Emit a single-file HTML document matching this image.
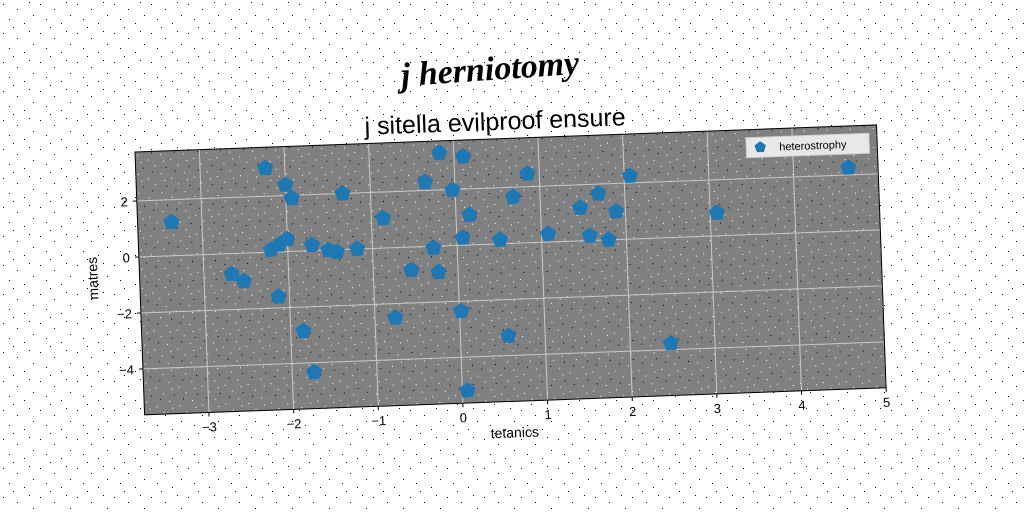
<!DOCTYPE html>
<html><head><meta charset="utf-8"><style>
html,body{margin:0;padding:0;background:#fff;}
svg{display:block;font-family:"Liberation Sans",sans-serif;}
</style></head><body>
<svg id="chart" width="1024" height="512" viewBox="0 0 1024 512" xmlns="http://www.w3.org/2000/svg">
<defs>
<pattern id="noise" width="37" height="29" patternUnits="userSpaceOnUse">
<rect x="3" y="4" width="1" height="1" fill="#000"/><rect x="17" y="9" width="1" height="1" fill="#000"/>
<rect x="29" y="2" width="1" height="1" fill="#000"/><rect x="9" y="19" width="1" height="1" fill="#000"/>
<rect x="24" y="23" width="1" height="1" fill="#000"/><rect x="33" y="15" width="1" height="1" fill="#000"/>
<rect x="13" y="27" width="1" height="1" fill="#000"/>
</pattern>
<pattern id="noise2" width="23" height="19" patternUnits="userSpaceOnUse">
<rect x="2" y="3" width="1" height="1" fill="#fff"/><rect x="12" y="8" width="1" height="1" fill="#fff"/>
<rect x="19" y="14" width="1" height="1" fill="#fff"/><rect x="7" y="16" width="1" height="1" fill="#000"/>
<rect x="16" y="1" width="1" height="1" fill="#000"/><rect x="5" y="10" width="1" height="1" fill="#fff"/>
</pattern>
</defs>
<rect width="1024" height="512" fill="url(#noise)"/>
<text x="490" y="80" text-anchor="middle" font-size="34" font-weight="bold" font-style="italic" font-family="Liberation Serif, serif" transform="rotate(-4 490 70)">j herniotomy</text>
<text x="495" y="130" text-anchor="middle" font-size="25" transform="rotate(-2.09 495 120)">j sitella evilproof ensure</text>
<g id="plot" transform="translate(135,152) rotate(-2.09)"></g>
</svg>
<script>
const xValues = [-3.36,-2.23,-2.0,-1.93,-1.33,-2.2,-2.1,-2.0,-1.71,-1.52,-1.42,-1.18,-2.67,-2.53,-2.13,-1.85,-1.74,-0.76,-0.86,-0.55,-0.23,-0.28,-0.35,-0.17,-0.03,0.11,0.07,0.16,0.02,0.06,0.51,0.68,0.57,0.86,1.08,1.47,1.57,1.69,1.79,1.89,2.07,2.48,3.08,4.65];
const yValues = [1.2,3.0,2.38,1.9,2.0,0.08,0.25,0.44,0.2,0.0,-0.08,0.0,-0.73,-1.0,-1.6,-2.86,-4.34,-2.5,1.07,-0.82,-0.93,-0.06,2.3,3.32,1.98,3.16,0.26,1.07,-2.35,-5.2,0.14,1.65,-3.3,2.46,0.29,1.18,0.17,1.66,0.0,1.0,2.25,-3.77,0.82,2.26];
const xTicks = [-3,-2,-1,0,1,2,3,4,5];
const yTicks = [-4,-2,0,2];
const xMin=-3.76, xMax=5.0, yMin=-5.64, yMax=3.75;
const W=742, H=263;
const sx=v=>(v-xMin)/(xMax-xMin)*W;
const sy=v=>(yMax-v)/(yMax-yMin)*H;
const NS="http://www.w3.org/2000/svg";
const g=document.getElementById('plot');
function mk(tag,attrs,parent){const e=document.createElementNS(NS,tag);for(const k in attrs)e.setAttribute(k,attrs[k]);(parent||g).appendChild(e);return e;}
let bg=mk('rect',{x:0,y:0,width:W,height:H,fill:'#808080'});


let nz=mk('rect',{x:0,y:0,width:W,height:H,fill:'url(#noise2)'});


xTicks.forEach(t=>{
  const x=sx(t);
  if(t<xMax){let l=mk('line',{x1:x,y1:0,x2:x,y2:H,stroke:'#c8c8c8','stroke-width':1});
  
  }
  let tk=mk('line',{x1:x,y1:H,x2:x,y2:H+4,stroke:'#000'});
  
  
  let tx=mk('text',{x:x,y:H+19,'text-anchor':'middle','font-size':13});
  tx.textContent=(t<0?'\u2212'+(-t):t);
  
  
});
yTicks.forEach(t=>{
  const y=sy(t);
  let l=mk('line',{x1:0,y1:y,x2:W,y2:y,stroke:'#c8c8c8','stroke-width':1});
  
  
  let tk=mk('line',{x1:-4,y1:y,x2:0,y2:y,stroke:'#000'});
  
  
  let tx=mk('text',{x:-9,y:y+5,'text-anchor':'end','font-size':13});
  tx.textContent=(t<0?'\u2212'+(-t):t);
  
  
});
let fr=mk('rect',{x:0,y:0,width:W,height:H,fill:'none',stroke:'#000','stroke-width':1});


function pent(cx,cy,r){let p=[];for(let i=0;i<5;i++){const a=-Math.PI/2+i*2*Math.PI/5;p.push((cx+r*Math.cos(a)).toFixed(1)+','+(cy+r*Math.sin(a)).toFixed(1));}return p.join(' ');}
xValues.forEach((v,i)=>{
  let m=mk('polygon',{points:pent(sx(v),sy(yValues[i]),8.5),fill:'#1f77b4'});
  
  
});
let xl=mk('text',{x:sx(0.6),y:H+36,'text-anchor':'middle','font-size':14});
xl.textContent='tetanics';


let yl=mk('text',{x:-42,y:sy(-0.7),'text-anchor':'middle','font-size':14,transform:'rotate(-90 -42 '+sy(-0.7)+')'});
yl.textContent='matres';


let lg=mk('g',{});


mk('rect',{x:W-131,y:8,width:123,height:20,fill:'#e8e8e8',stroke:'#ccc'},lg);
let lm=mk('polygon',{points:pent(W-117,18,6),fill:'#1f77b4'},lg);


let lt=mk('text',{x:W-98,y:22,'font-size':11},lg);
lt.textContent='heterostrophy';


</script>
</body></html>
